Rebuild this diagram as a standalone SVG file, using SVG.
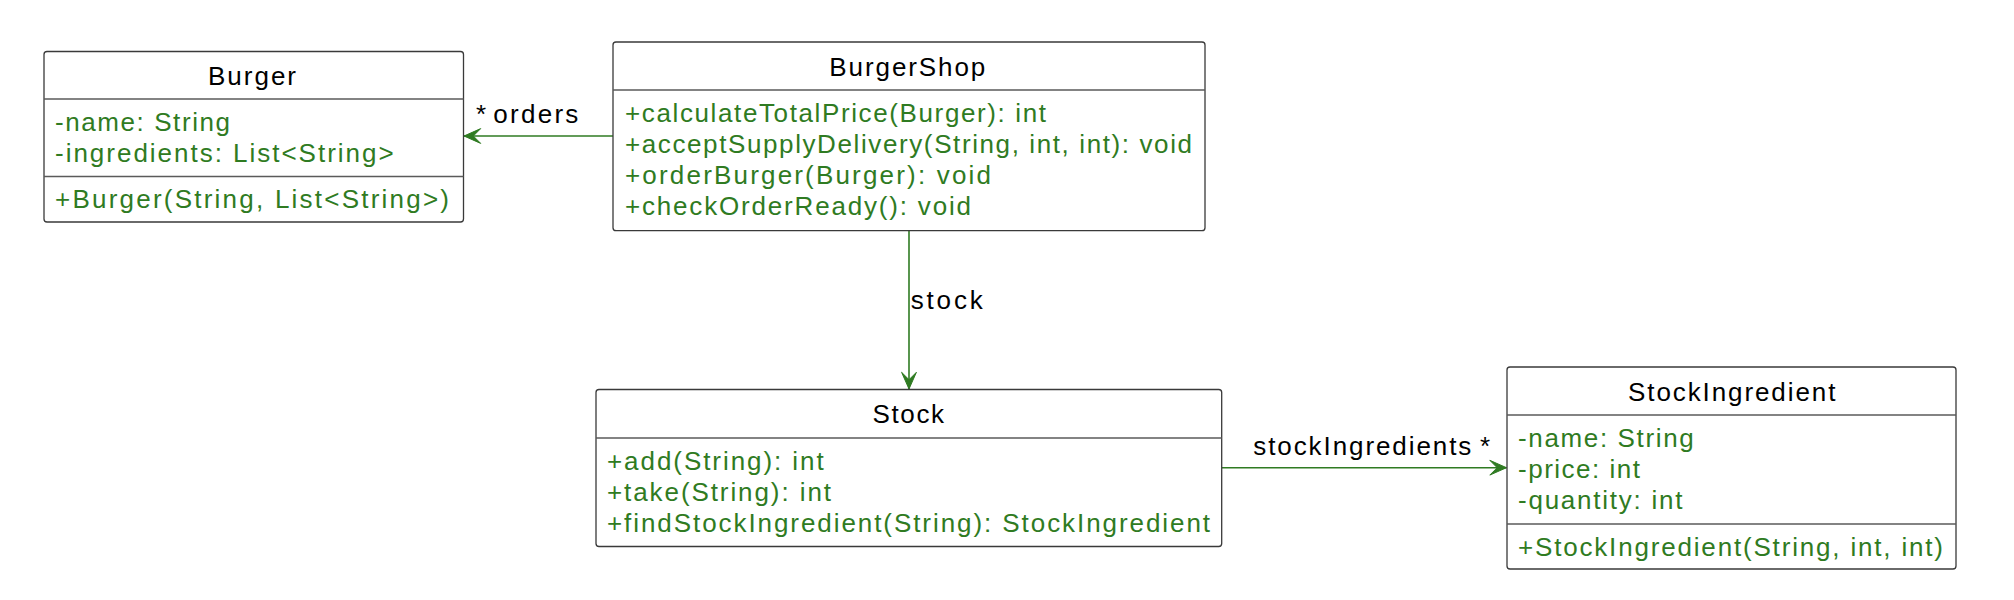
<svg xmlns="http://www.w3.org/2000/svg" width="2014" height="600" viewBox="0 0 2014 600">
<style>
.box{fill:#ffffff;stroke:#3a3a3a;stroke-width:1.3}
.sep{stroke:#5a5a5a;stroke-width:1.3}
.t{font-family:"Liberation Sans",Arial,sans-serif;font-size:26px;fill:#000000}
.m{font-family:"Liberation Sans",Arial,sans-serif;font-size:26px;fill:#2f7b22}
.lbl{font-family:"Liberation Sans",Arial,sans-serif;font-size:26px;fill:#000000}
.edge{stroke:#2f7b22;stroke-width:1.6;fill:none}
</style>
<defs>
<marker id="arr" viewBox="-18 -9 20 18" markerWidth="20" markerHeight="18" refX="0" refY="0" orient="auto" markerUnits="userSpaceOnUse">
<path d="M0,0 L-16.7,-7.4 L-9.3,0 L-16.7,7.4 Z" fill="#2f7b22" stroke="#2f7b22" stroke-width="1"/>
</marker>
</defs>
<rect width="2014" height="600" fill="#ffffff"/>

<g id="connectors">
<line class="edge" x1="613" y1="136" x2="464" y2="136" marker-end="url(#arr)"/>
<line class="edge" x1="909" y1="230.7" x2="909" y2="389" marker-end="url(#arr)"/>
<line class="edge" x1="1221.7" y1="467.7" x2="1506.5" y2="467.7" marker-end="url(#arr)"/>
<text class="lbl" x="476" y="123.3">*</text>
<text class="lbl" x="493.3" y="123.3" textLength="85" lengthAdjust="spacing">orders</text>
<text class="lbl" x="910.7" y="309.3" textLength="72" lengthAdjust="spacing">stock</text>
<text class="lbl" x="1253.3" y="455" textLength="218" lengthAdjust="spacing">stockIngredients</text>
<text class="lbl" x="1480" y="455">*</text>
</g>

<g id="Burger">
<rect class="box" x="44" y="51.5" width="419.5" height="170.5" rx="3" ry="3"/>
<line class="sep" x1="44" y1="99" x2="463.5" y2="99"/>
<line class="sep" x1="44" y1="176.5" x2="463.5" y2="176.5"/>
<text class="t" x="208" y="85" textLength="88" lengthAdjust="spacing">Burger</text>
<text class="m" x="55" y="130.5" textLength="175" lengthAdjust="spacing">-name: String</text>
<text class="m" x="55" y="161.8" textLength="338.6" lengthAdjust="spacing">-ingredients: List&lt;String&gt;</text>
<text class="m" x="55" y="208" textLength="394" lengthAdjust="spacing">+Burger(String, List&lt;String&gt;)</text>
</g>

<g id="BurgerShop">
<rect class="box" x="613" y="42" width="592" height="188.7" rx="3" ry="3"/>
<line class="sep" x1="613" y1="90" x2="1205" y2="90"/>
<text class="t" x="829.3" y="75.5" textLength="156" lengthAdjust="spacing">BurgerShop</text>
<text class="m" x="625" y="121.5" textLength="421" lengthAdjust="spacing">+calculateTotalPrice(Burger): int</text>
<text class="m" x="625" y="152.8" textLength="567" lengthAdjust="spacing">+acceptSupplyDelivery(String, int, int): void</text>
<text class="m" x="625" y="184.1" textLength="366" lengthAdjust="spacing">+orderBurger(Burger): void</text>
<text class="m" x="625" y="215.4" textLength="346" lengthAdjust="spacing">+checkOrderReady(): void</text>
</g>

<g id="Stock">
<rect class="box" x="596" y="389.5" width="625.7" height="157" rx="3" ry="3"/>
<line class="sep" x1="596" y1="438" x2="1221.7" y2="438"/>
<text class="t" x="872.5" y="423" textLength="71.5" lengthAdjust="spacing">Stock</text>
<text class="m" x="607" y="469.5" textLength="216.7" lengthAdjust="spacing">+add(String): int</text>
<text class="m" x="607" y="500.8" textLength="224" lengthAdjust="spacing">+take(String): int</text>
<text class="m" x="607" y="532.1" textLength="603" lengthAdjust="spacing">+findStockIngredient(String): StockIngredient</text>
</g>

<g id="StockIngredient">
<rect class="box" x="1507" y="367" width="449" height="202" rx="3" ry="3"/>
<line class="sep" x1="1507" y1="415" x2="1956" y2="415"/>
<line class="sep" x1="1507" y1="524" x2="1956" y2="524"/>
<text class="t" x="1628" y="400.5" textLength="207.4" lengthAdjust="spacing">StockIngredient</text>
<text class="m" x="1518" y="446.5" textLength="175.7" lengthAdjust="spacing">-name: String</text>
<text class="m" x="1518" y="477.8" textLength="122" lengthAdjust="spacing">-price: int</text>
<text class="m" x="1518" y="509.1" textLength="164.4" lengthAdjust="spacing">-quantity: int</text>
<text class="m" x="1518" y="555.5" textLength="425" lengthAdjust="spacing">+StockIngredient(String, int, int)</text>
</g>
</svg>
